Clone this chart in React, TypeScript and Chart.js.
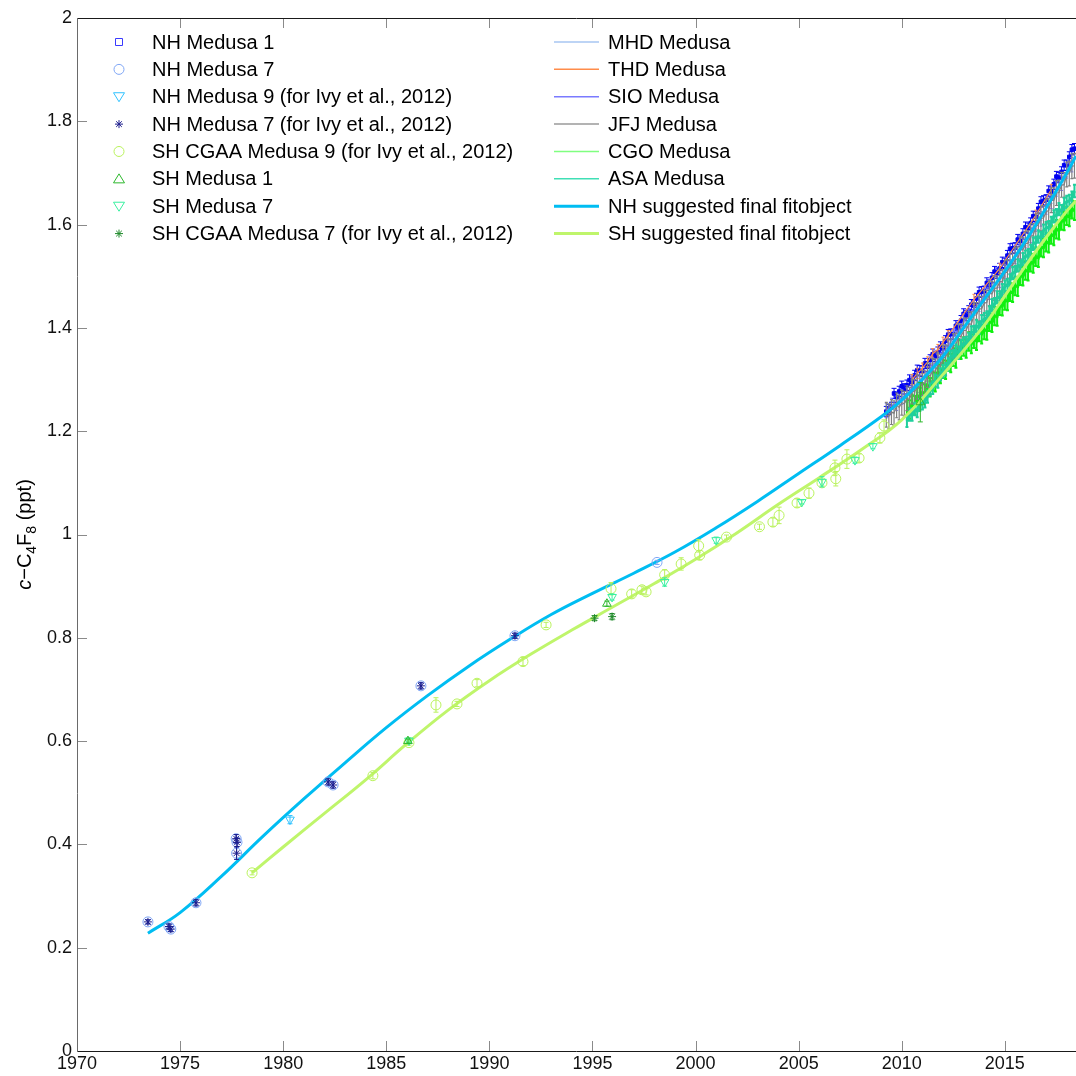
import React, { useEffect, useRef } from 'react';
import { Chart, registerables } from 'chart.js';

Chart.register(...registerables);

const FONT = '"Liberation Sans", Arial, Helvetica, sans-serif';
const CANVAS_W = 1076;

// ---------- axes ----------
const X_MIN = 1970;
const X_MAX = 2018.45;
const Y_MIN = 0;
const Y_MAX = 2;
const X_TICKS = [1970, 1975, 1980, 1985, 1990, 1995, 2000, 2005, 2010, 2015];
const Y_TICKS = [0, 0.2, 0.4, 0.6, 0.8, 1, 1.2, 1.4, 1.6, 1.8, 2];

// ---------- fitted curves ----------
const NH_FIT_YEARS = [1973.44, 1975, 1977, 1979, 1981, 1983, 1985, 1987, 1989, 1991, 1993, 1995, 1997, 1999, 2001, 2003, 2005, 2007, 2009, 2010, 2011, 2012, 2013, 2014, 2015, 2016, 2017, 2018, 2018.45];
const NH_FIT_VALUES = [0.228, 0.268, 0.338, 0.415, 0.488, 0.558, 0.626, 0.688, 0.745, 0.797, 0.845, 0.886, 0.925, 0.966, 1.013, 1.064, 1.118, 1.172, 1.228, 1.26, 1.3, 1.345, 1.4, 1.455, 1.51, 1.568, 1.632, 1.7, 1.733];
const SH_FIT_YEARS = [1978.49, 1980, 1982, 1984, 1986, 1988, 1990, 1992, 1994, 1996, 1998, 2000, 2002, 2004, 2006, 2008, 2010, 2012, 2014, 2015, 2016, 2017, 2018, 2018.45];
const SH_FIT_VALUES = [0.345, 0.395, 0.46, 0.525, 0.595, 0.66, 0.717, 0.768, 0.815, 0.86, 0.905, 0.952, 1.003, 1.058, 1.11, 1.163, 1.222, 1.31, 1.405, 1.462, 1.52, 1.575, 1.626, 1.646];

// ---------- sparse archive samples ----------
const NH_M7_IVY_YEARS = [1973.44, 1974.46, 1974.55, 1975.77, 1977.72, 1977.76, 1977.74, 1982.18, 1982.42, 1986.68, 1991.24];
const NH_M7_IVY_VALUES = [0.25, 0.241, 0.236, 0.287, 0.411, 0.404, 0.383, 0.521, 0.515, 0.707, 0.804];
const NH_M7_IVY_ERR = [0.004, 0.005, 0.005, 0.006, 0.008, 0.008, 0.012, 0.006, 0.006, 0.006, 0.005];

const NH_M7_YEARS = [1973.44, 1974.46, 1974.55, 1975.77, 1977.72, 1977.76, 1977.74, 1982.18, 1982.42, 1986.68, 1991.24, 1998.13];
const NH_M7_VALUES = [0.25, 0.241, 0.236, 0.287, 0.411, 0.404, 0.383, 0.521, 0.515, 0.707, 0.804, 0.946];
const NH_M7_ERR = [0.004, 0.005, 0.005, 0.006, 0.008, 0.008, 0.012, 0.006, 0.006, 0.006, 0.005, 0.004];

const NH_M9_YEARS = [1980.33];
const NH_M9_VALUES = [0.448];
const NH_M9_ERR = [0.008];

const SH_CGAA_M9_YEARS = [1978.49, 1984.35, 1986.1, 1987.41, 1988.43, 1989.4, 1991.63, 1992.75, 1995.9, 1996.9, 1997.4, 1997.6, 1998.5, 1999.3, 2000.15, 2000.2, 2001.5, 2003.1, 2003.75, 2004.05, 2004.92, 2005.5, 2006.13, 2006.76, 2006.8, 2007.34, 2007.93, 2008.94, 2009.14];
const SH_CGAA_M9_VALUES = [0.345, 0.533, 0.597, 0.67, 0.672, 0.712, 0.754, 0.825, 0.895, 0.885, 0.893, 0.889, 0.922, 0.943, 0.978, 0.96, 0.995, 1.015, 1.024, 1.037, 1.061, 1.08, 1.1, 1.129, 1.108, 1.146, 1.148, 1.187, 1.21];
const SH_CGAA_M9_ERR = [0.004, 0.006, 0.005, 0.014, 0.005, 0.007, 0.008, 0.005, 0.012, 0.008, 0.007, 0.006, 0.01, 0.012, 0.012, 0.009, 0.004, 0.005, 0.008, 0.016, 0.008, 0.01, 0.006, 0.015, 0.014, 0.018, 0.008, 0.01, 0.012];

const SH_M1_YEARS = [1986.05, 1995.7, 2010.9];
const SH_M1_VALUES = [0.6, 0.866, 1.256];
const SH_M1_ERR = [0.004, 0.005, 0.038];

const SH_M7_YEARS = [1986.1, 1995.95, 1998.5, 2001.0, 2005.15, 2006.13, 2007.73, 2008.6];
const SH_M7_VALUES = [0.601, 0.879, 0.908, 0.989, 1.063, 1.102, 1.144, 1.171];
const SH_M7_ERR = [0.005, 0.006, 0.008, 0.006, 0.004, 0.01, 0.006, 0.005];

const SH_CGAA_M7_YEARS = [1995.1, 1995.95];
const SH_CGAA_M7_VALUES = [0.838, 0.841];
const SH_CGAA_M7_ERR = [0.005, 0.006];

// ---------- in situ station records ----------
const NH_DENSE_YEARS = [2009.25, 2009.375, 2009.5, 2009.625, 2009.75, 2009.875, 2010.0, 2010.125, 2010.25, 2010.375, 2010.5, 2010.625, 2010.75, 2010.875, 2011.0, 2011.125, 2011.25, 2011.375, 2011.5, 2011.625, 2011.75, 2011.875, 2012.0, 2012.125, 2012.25, 2012.375, 2012.5, 2012.625, 2012.75, 2012.875, 2013.0, 2013.125, 2013.25, 2013.375, 2013.5, 2013.625, 2013.75, 2013.875, 2014.0, 2014.125, 2014.25, 2014.375, 2014.5, 2014.625, 2014.75, 2014.875, 2015.0, 2015.125, 2015.25, 2015.375, 2015.5, 2015.625, 2015.75, 2015.875, 2016.0, 2016.125, 2016.25, 2016.375, 2016.5, 2016.625, 2016.75, 2016.875, 2017.0, 2017.125, 2017.25, 2017.375, 2017.5, 2017.625, 2017.75, 2017.875, 2018.0, 2018.125, 2018.25, 2018.375];
const JFJ_VALUES = [1.232, 1.229, 1.237, 1.235, 1.25, 1.246, 1.255, 1.253, 1.264, 1.261, 1.277, 1.276, 1.286, 1.284, 1.293, 1.293, 1.309, 1.307, 1.317, 1.316, 1.328, 1.325, 1.342, 1.343, 1.355, 1.355, 1.365, 1.366, 1.384, 1.383, 1.395, 1.395, 1.408, 1.407, 1.425, 1.425, 1.437, 1.437, 1.448, 1.449, 1.467, 1.466, 1.477, 1.477, 1.49, 1.489, 1.507, 1.508, 1.521, 1.521, 1.532, 1.533, 1.552, 1.551, 1.563, 1.564, 1.578, 1.578, 1.597, 1.599, 1.612, 1.613, 1.625, 1.627, 1.647, 1.647, 1.661, 1.662, 1.677, 1.677, 1.697, 1.699, 1.713, 1.714];
const NH_M1_VALUES = [1.238, 1.242, 1.246, 1.273, 1.266, 1.277, 1.287, 1.282, 1.289, 1.299, 1.295, 1.308, 1.318, 1.317, 1.316, 1.331, 1.325, 1.338, 1.349, 1.345, 1.353, 1.363, 1.36, 1.375, 1.387, 1.388, 1.388, 1.404, 1.4, 1.414, 1.427, 1.424, 1.433, 1.445, 1.443, 1.457, 1.469, 1.47, 1.471, 1.487, 1.483, 1.497, 1.509, 1.506, 1.515, 1.527, 1.525, 1.54, 1.553, 1.554, 1.555, 1.571, 1.568, 1.582, 1.595, 1.593, 1.603, 1.616, 1.615, 1.631, 1.644, 1.646, 1.648, 1.665, 1.663, 1.678, 1.693, 1.691, 1.702, 1.715, 1.715, 1.731, 1.745, 1.747];

const NH_STATION_YEARS = [2009.25, 2009.5, 2009.75, 2010.0, 2010.25, 2010.5, 2010.75, 2011.0, 2011.25, 2011.5, 2011.75, 2012.0, 2012.25, 2012.5, 2012.75, 2013.0, 2013.25, 2013.5, 2013.75, 2014.0, 2014.25, 2014.5, 2014.75, 2015.0, 2015.25, 2015.5, 2015.75, 2016.0, 2016.25, 2016.5, 2016.75, 2017.0, 2017.25, 2017.5, 2017.75, 2018.0, 2018.25];
const SIO_VALUES = [1.24, 1.25, 1.254, 1.266, 1.27, 1.285, 1.289, 1.304, 1.311, 1.329, 1.336, 1.354, 1.363, 1.384, 1.393, 1.413, 1.421, 1.439, 1.446, 1.463, 1.469, 1.486, 1.492, 1.509, 1.518, 1.539, 1.548, 1.569, 1.579, 1.601, 1.611, 1.634, 1.645, 1.669, 1.68, 1.704, 1.716];
const MHD_VALUES = [1.242, 1.251, 1.26, 1.268, 1.274, 1.286, 1.293, 1.305, 1.316, 1.327, 1.34, 1.351, 1.367, 1.38, 1.396, 1.409, 1.423, 1.434, 1.449, 1.459, 1.472, 1.482, 1.495, 1.505, 1.521, 1.535, 1.551, 1.565, 1.582, 1.597, 1.614, 1.629, 1.647, 1.664, 1.682, 1.699, 1.718];
const THD_YEARS = [2010.5, 2010.75, 2011.0, 2011.25, 2011.5, 2011.75, 2012.0, 2012.25, 2013.5, 2014.75, 2016.5, 2017.25];
const THD_VALUES = [1.3, 1.312, 1.322, 1.334, 1.35, 1.358, 1.372, 1.385, 1.455, 1.515, 1.618, 1.668];

const SH_DENSE_YEARS = [2010.25, 2010.375, 2010.5, 2010.625, 2010.75, 2010.875, 2011.0, 2011.125, 2011.25, 2011.375, 2011.5, 2011.625, 2011.75, 2011.875, 2012.0, 2012.125, 2012.25, 2012.375, 2012.5, 2012.625, 2012.75, 2012.875, 2013.0, 2013.125, 2013.25, 2013.375, 2013.5, 2013.625, 2013.75, 2013.875, 2014.0, 2014.125, 2014.25, 2014.375, 2014.5, 2014.625, 2014.75, 2014.875, 2015.0, 2015.125, 2015.25, 2015.375, 2015.5, 2015.625, 2015.75, 2015.875, 2016.0, 2016.125, 2016.25, 2016.375, 2016.5, 2016.625, 2016.75, 2016.875, 2017.0, 2017.125, 2017.25, 2017.375, 2017.5, 2017.625, 2017.75, 2017.875, 2018.0, 2018.125, 2018.25, 2018.375];
const CGO_VALUES = [1.246, 1.242, 1.253, 1.25, 1.269, 1.266, 1.275, 1.273, 1.289, 1.285, 1.297, 1.295, 1.314, 1.311, 1.321, 1.319, 1.335, 1.332, 1.344, 1.341, 1.36, 1.358, 1.364, 1.36, 1.374, 1.369, 1.379, 1.375, 1.392, 1.388, 1.396, 1.395, 1.412, 1.41, 1.423, 1.422, 1.443, 1.442, 1.453, 1.452, 1.47, 1.468, 1.481, 1.48, 1.501, 1.5, 1.511, 1.51, 1.527, 1.525, 1.538, 1.536, 1.556, 1.555, 1.566, 1.564, 1.581, 1.578, 1.591, 1.589, 1.608, 1.607, 1.617, 1.615, 1.63, 1.627];
const ASA_VALUES = [1.22, 1.232, 1.232, 1.243, 1.239, 1.251, 1.254, 1.258, 1.267, 1.281, 1.284, 1.298, 1.296, 1.31, 1.316, 1.32, 1.329, 1.344, 1.345, 1.356, 1.352, 1.365, 1.369, 1.371, 1.378, 1.391, 1.392, 1.404, 1.4, 1.413, 1.417, 1.42, 1.43, 1.444, 1.446, 1.459, 1.459, 1.473, 1.48, 1.483, 1.492, 1.506, 1.508, 1.521, 1.519, 1.533, 1.538, 1.541, 1.549, 1.563, 1.565, 1.577, 1.574, 1.588, 1.593, 1.595, 1.603, 1.616, 1.618, 1.63, 1.626, 1.64, 1.644, 1.646, 1.652, 1.665];

const JFJ_ERR = 0.024;
const SIO_ERR = 0.014;
const MHD_ERR = 0.006;
const NH_M1_ERR = 0.01;
const THD_ERR = 0.01;
const CGO_ERR = 0.018;
const ASA_ERR = 0.012;

// ---------- colours ----------
const C = {
  nhM1: '#0000f0',
  nhM1Legend: '#3a3aff',
  nhM7: '#7fa6f5',
  nhM9: '#30c2ff',
  nhM7Ivy: '#1c1c8c',
  shCgaaM9: '#b9f25c',
  shM1: '#2db82d',
  shM7: '#38f0a0',
  shCgaaM7: '#1f8a2a',
  mhd: '#a7c6f2',
  thd: '#ff8c4a',
  sio: '#7a7aff',
  jfj: '#808080',
  cgo: '#10f010',
  cgoLegend: '#80ff80',
  asa: '#1fcf9c',
  nhFit: '#00bdf2',
  shFit: '#bff56b',
};

const LEGEND_LEFT = [
  { label: 'NH Medusa 1', color: C.nhM1Legend, marker: 'square' },
  { label: 'NH Medusa 7', color: C.nhM7, marker: 'circle' },
  { label: 'NH Medusa 9 (for Ivy et al., 2012)', color: C.nhM9, marker: 'triDown' },
  { label: 'NH Medusa 7 (for Ivy et al., 2012)', color: C.nhM7Ivy, marker: 'star' },
  { label: 'SH CGAA Medusa 9 (for Ivy et al., 2012)', color: C.shCgaaM9, marker: 'circle' },
  { label: 'SH Medusa 1', color: C.shM1, marker: 'triUp' },
  { label: 'SH Medusa 7', color: C.shM7, marker: 'triDown' },
  { label: 'SH CGAA Medusa 7 (for Ivy et al., 2012)', color: C.shCgaaM7, marker: 'star' },
];
const LEGEND_RIGHT = [
  { label: 'MHD Medusa', color: C.mhd, width: 1.5 },
  { label: 'THD Medusa', color: C.thd, width: 1.5 },
  { label: 'SIO Medusa', color: C.sio, width: 1.5 },
  { label: 'JFJ Medusa', color: '#9a9a9a', width: 1.5 },
  { label: 'CGO Medusa', color: C.cgoLegend, width: 1.5 },
  { label: 'ASA Medusa', color: '#40dfb5', width: 1.5 },
  { label: 'NH suggested final fitobject', color: C.nhFit, width: 3 },
  { label: 'SH suggested final fitobject', color: C.shFit, width: 3 },
];

const pts = (xs: number[], ys: number[]) => xs.map((x, i) => ({ x, y: ys[i] }));

function drawMarker(ctx: CanvasRenderingContext2D, kind: string, x: number, y: number, color: string) {
  ctx.save();
  ctx.strokeStyle = color;
  ctx.lineWidth = 1;
  ctx.beginPath();
  if (kind === 'square') {
    ctx.rect(x - 3.5, y - 3.5, 7, 7);
  } else if (kind === 'circle') {
    ctx.arc(x, y, 5, 0, Math.PI * 2);
  } else if (kind === 'triDown') {
    ctx.moveTo(x - 5.5, y - 4);
    ctx.lineTo(x + 5.5, y - 4);
    ctx.lineTo(x, y + 5);
    ctx.closePath();
  } else if (kind === 'triUp') {
    ctx.moveTo(x - 5.5, y + 4);
    ctx.lineTo(x + 5.5, y + 4);
    ctx.lineTo(x, y - 5);
    ctx.closePath();
  } else if (kind === 'star') {
    for (const a of [0, 45, 90, 135]) {
      const r = (a * Math.PI) / 180;
      ctx.moveTo(x - 4 * Math.cos(r), y - 4 * Math.sin(r));
      ctx.lineTo(x + 4 * Math.cos(r), y + 4 * Math.sin(r));
    }
  }
  ctx.stroke();
  ctx.restore();
}

// stretch the plot area to the right edge of the canvas (no right margin, as in the reference)
const fullWidthPlugin = {
  id: 'fullWidth',
  afterLayout(chart: any) {
    const xs = chart.scales.x;
    chart.chartArea.right = CANVAS_W;
    chart.chartArea.width = CANVAS_W - chart.chartArea.left;
    xs.right = CANVAS_W;
    xs.width = CANVAS_W - xs.left;
    xs.configure();
  },
};

const errorBarPlugin = {
  id: 'errorBars',
  beforeDatasetDraw(chart: any, args: any) {
    const ds = chart.data.datasets[args.index];
    if (ds.err === undefined) return;
    const ys = chart.scales.y;
    const area = chart.chartArea;
    const ctx: CanvasRenderingContext2D = chart.ctx;
    ctx.save();
    ctx.beginPath();
    ctx.rect(area.left, area.top, area.right - area.left, area.bottom - area.top);
    ctx.clip();
    ctx.strokeStyle = ds.errColor || ds.borderColor;
    ctx.lineWidth = ds.errWidth ?? 1;
    const cap = ds.errCap ?? 2.5;
    ctx.beginPath();
    args.meta.data.forEach((pt: any, i: number) => {
      const e = Array.isArray(ds.err) ? ds.err[i] : ds.err;
      const v = ds.data[i].y;
      const x = pt.x;
      const y1 = ys.getPixelForValue(v - e);
      const y2 = ys.getPixelForValue(v + e);
      ctx.moveTo(x, y1);
      ctx.lineTo(x, y2);
      ctx.moveTo(x - cap, y1);
      ctx.lineTo(x + cap, y1);
      ctx.moveTo(x - cap, y2);
      ctx.lineTo(x + cap, y2);
    });
    ctx.stroke();
    ctx.restore();
  },
};

const decorPlugin = {
  id: 'decor',
  afterDraw(chart: any) {
    const ctx: CanvasRenderingContext2D = chart.ctx;
    const { left, right, top, bottom } = chart.chartArea;
    const xs = chart.scales.x;
    const ys = chart.scales.y;
    ctx.save();
    // inward tick marks
    ctx.strokeStyle = '#8a8a8a';
    ctx.lineWidth = 1;
    ctx.beginPath();
    X_TICKS.forEach((t) => {
      const x = Math.round(xs.getPixelForValue(t)) + 0.5;
      ctx.moveTo(x, bottom);
      ctx.lineTo(x, bottom - 10);
      ctx.moveTo(x, top);
      ctx.lineTo(x, top + 10);
    });
    Y_TICKS.forEach((t) => {
      const y = Math.round(ys.getPixelForValue(t)) + 0.5;
      ctx.moveTo(left, y);
      ctx.lineTo(left + 10, y);
    });
    ctx.stroke();
    // axes box
    ctx.strokeStyle = '#1a1a1a';
    ctx.beginPath();
    ctx.moveTo(left, Math.round(top) + 0.5);
    ctx.lineTo(right, Math.round(top) + 0.5);
    ctx.moveTo(left, Math.round(bottom) + 0.5);
    ctx.lineTo(right, Math.round(bottom) + 0.5);
    ctx.stroke();
    ctx.strokeStyle = '#6a6a6a';
    ctx.beginPath();
    ctx.moveTo(Math.round(left) + 0.5, top);
    ctx.lineTo(Math.round(left) + 0.5, bottom + 1);
    ctx.stroke();

    // y-axis title: c−C4F8 (ppt)
    const parts = [
      { t: 'c', font: `italic 20px ${FONT}`, dy: 0 },
      { t: '\u2212C', font: `20px ${FONT}`, dy: 0 },
      { t: '4', font: `14px ${FONT}`, dy: 5 },
      { t: 'F', font: `20px ${FONT}`, dy: 0 },
      { t: '8', font: `14px ${FONT}`, dy: 5 },
      { t: ' (ppt)', font: `20px ${FONT}`, dy: 0 },
    ];
    let total = 0;
    parts.forEach((p) => {
      ctx.font = p.font;
      total += ctx.measureText(p.t).width;
    });
    ctx.translate(31, (top + bottom) / 2);
    ctx.rotate(-Math.PI / 2);
    ctx.fillStyle = '#000';
    ctx.textBaseline = 'alphabetic';
    ctx.textAlign = 'left';
    let cx = -total / 2;
    parts.forEach((p) => {
      ctx.font = p.font;
      ctx.fillText(p.t, cx, p.dy);
      cx += ctx.measureText(p.t).width;
    });
    ctx.restore();

    // legend
    ctx.save();
    ctx.font = `20px ${FONT}`;
    ctx.fillStyle = '#000';
    ctx.textBaseline = 'middle';
    ctx.textAlign = 'left';
    const rowY = (i: number) => 42 + 27.37 * i;
    LEGEND_LEFT.forEach((e, i) => {
      drawMarker(ctx, e.marker, 119, rowY(i), e.color);
      ctx.fillText(e.label, 152, rowY(i) + 1);
    });
    LEGEND_RIGHT.forEach((e, i) => {
      ctx.strokeStyle = e.color;
      ctx.lineWidth = e.width;
      ctx.beginPath();
      ctx.moveTo(554, rowY(i));
      ctx.lineTo(599, rowY(i));
      ctx.stroke();
      ctx.fillText(e.label, 608, rowY(i) + 1);
    });
    ctx.restore();
  },
};

function scatter(label: string, xs: number[], ys: number[], err: any, color: string, style: string, radius: number, rotation = 0, fill = false, order = 0) {
  return {
    label,
    data: pts(xs, ys),
    showLine: false,
    borderColor: color,
    backgroundColor: fill ? color : 'rgba(0,0,0,0)',
    pointStyle: style,
    pointRadius: radius,
    pointRotation: rotation,
    pointBorderWidth: 1,
    err,
    order,
  };
}

function stationLine(label: string, xs: number[], ys: number[], err: number, color: string, order: number, width = 1.2, errWidth = 1) {
  return {
    label,
    data: pts(xs, ys),
    showLine: true,
    borderColor: color,
    backgroundColor: color,
    borderWidth: width,
    pointRadius: 0,
    tension: 0,
    err,
    errCap: 1.5,
    errWidth,
    order,
  };
}

function fitLine(label: string, xs: number[], ys: number[], color: string, order: number) {
  return {
    label,
    data: pts(xs, ys),
    showLine: true,
    borderColor: color,
    backgroundColor: color,
    borderWidth: 3,
    pointRadius: 0,
    tension: 0.4,
    order,
  };
}

export default function App() {
  const ref = useRef<HTMLCanvasElement>(null);
  useEffect(() => {
    document.body.style.margin = '0';
    const canvas = ref.current!;
    const datasets: any[] = [
      scatter('NH Medusa 1', NH_DENSE_YEARS, NH_M1_VALUES, NH_M1_ERR, C.nhM1, 'rect', 2.5, 0, true, 8),
      scatter('NH Medusa 7', NH_M7_YEARS, NH_M7_VALUES, NH_M7_ERR, C.nhM7, 'circle', 5, 0, false, 1),
      scatter('NH Medusa 9 (for Ivy et al., 2012)', NH_M9_YEARS, NH_M9_VALUES, NH_M9_ERR, C.nhM9, 'triangle', 5, 180, false, 0),
      scatter('NH Medusa 7 (for Ivy et al., 2012)', NH_M7_IVY_YEARS, NH_M7_IVY_VALUES, NH_M7_IVY_ERR, C.nhM7Ivy, 'star', 4, 0, false, 0),
      scatter('SH CGAA Medusa 9 (for Ivy et al., 2012)', SH_CGAA_M9_YEARS, SH_CGAA_M9_VALUES, SH_CGAA_M9_ERR, C.shCgaaM9, 'circle', 5, 0, false, 1),
      scatter('SH Medusa 1', SH_M1_YEARS, SH_M1_VALUES, SH_M1_ERR, C.shM1, 'triangle', 5, 0, false, 0),
      scatter('SH Medusa 7', SH_M7_YEARS, SH_M7_VALUES, SH_M7_ERR, C.shM7, 'triangle', 5, 180, false, 0),
      scatter('SH CGAA Medusa 7 (for Ivy et al., 2012)', SH_CGAA_M7_YEARS, SH_CGAA_M7_VALUES, SH_CGAA_M7_ERR, C.shCgaaM7, 'star', 4, 0, false, 0),
      stationLine('MHD Medusa', NH_STATION_YEARS, MHD_VALUES, MHD_ERR, C.mhd, 9),
      stationLine('THD Medusa', THD_YEARS, THD_VALUES, THD_ERR, C.thd, 6),
      stationLine('SIO Medusa', NH_STATION_YEARS, SIO_VALUES, SIO_ERR, C.sio, 7),
      stationLine('JFJ Medusa', NH_DENSE_YEARS, JFJ_VALUES, JFJ_ERR, C.jfj, 5, 1.2, 1.2),
      stationLine('CGO Medusa', SH_DENSE_YEARS, CGO_VALUES, CGO_ERR, C.cgo, 5, 3, 2),
      stationLine('ASA Medusa', SH_DENSE_YEARS, ASA_VALUES, ASA_ERR, C.asa, 4, 3, 2),
      fitLine('NH suggested final fitobject', NH_FIT_YEARS, NH_FIT_VALUES, C.nhFit, 2),
      fitLine('SH suggested final fitobject', SH_FIT_YEARS, SH_FIT_VALUES, C.shFit, 2),
    ];
    const chart = new Chart(canvas, {
      type: 'scatter',
      data: { datasets },
      options: {
        responsive: false,
        animation: false,
        devicePixelRatio: 1,
        layout: { padding: { top: 18, right: 0, left: 0, bottom: 0 } },
        plugins: { legend: { display: false }, tooltip: { enabled: false }, title: { display: false } },
        scales: {
          x: {
            type: 'linear',
            min: X_MIN,
            max: X_MAX,
            afterFit: (s: any) => {
              s.height = 25;
              s.paddingLeft = 0;
              s.paddingRight = 0;
            },
            afterBuildTicks: (s: any) => {
              s.ticks = X_TICKS.map((v) => ({ value: v }));
            },
            grid: { display: false, drawTicks: false },
            border: { display: false },
            ticks: {
              autoSkip: false,
              maxRotation: 0,
              padding: 2,
              color: '#111',
              font: { family: FONT, size: 18 },
              callback: (v: any) => String(v),
            },
          },
          y: {
            type: 'linear',
            min: Y_MIN,
            max: Y_MAX,
            afterFit: (s: any) => {
              s.width = 77;
              s.paddingTop = 0;
              s.paddingBottom = 0;
            },
            afterBuildTicks: (s: any) => {
              s.ticks = Y_TICKS.map((v) => ({ value: v }));
            },
            grid: { display: false, drawTicks: false },
            border: { display: false },
            ticks: {
              autoSkip: false,
              padding: 5,
              color: '#111',
              font: { family: FONT, size: 18 },
              callback: (v: any) => String(Math.round(Number(v) * 10) / 10),
            },
          },
        },
      },
      plugins: [fullWidthPlugin, errorBarPlugin, decorPlugin],
    } as any);
    return () => chart.destroy();
  }, []);
  return (
    <div style={{ position: 'fixed', left: 0, top: 0, width: CANVAS_W, height: 1076, background: '#fff' }}>
      <canvas ref={ref} width={CANVAS_W} height={1076} style={{ width: CANVAS_W, height: 1076, display: 'block' }} />
    </div>
  );
}
